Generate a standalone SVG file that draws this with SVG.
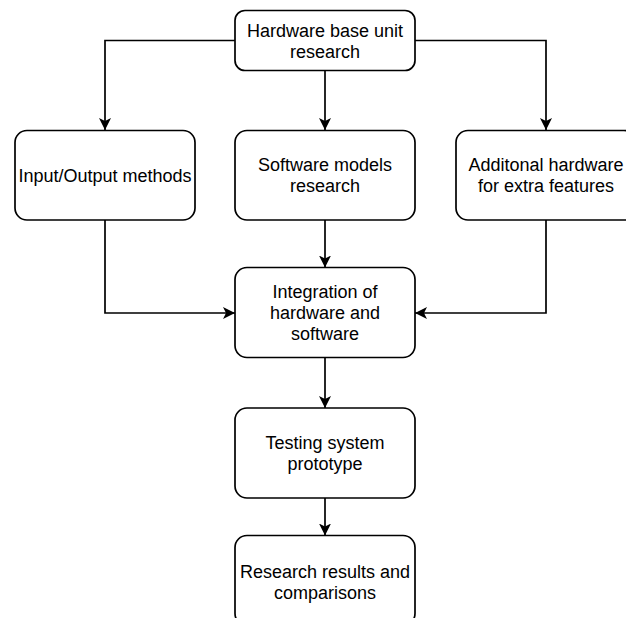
<svg xmlns="http://www.w3.org/2000/svg" width="626" height="618" viewBox="0 0 626 618">
<style>
.box{fill:#ffffff;stroke:#000000;stroke-width:1.7}
.lbl{font-family:"Liberation Sans",Arial,Helvetica,sans-serif;font-size:18px;fill:#000000;text-anchor:middle}
.con{fill:none;stroke:#000000;stroke-width:1.7}
</style>
<defs>
<marker id="arr" viewBox="0 0 12 13" refX="12" refY="6.5" markerWidth="12" markerHeight="13" markerUnits="userSpaceOnUse" orient="auto">
<path d="M0,0.5 L12,6.5 L0,12.5 L3,6.5 z" fill="#000000" stroke="none"/>
</marker>
</defs>
<rect width="626" height="618" fill="#ffffff"/>
<g id="connectors">
<path class="con" d="M235,40.5 H105 V130" marker-end="url(#arr)"/>
<path class="con" d="M325,70.5 V130" marker-end="url(#arr)"/>
<path class="con" d="M415,40.5 H546 V130" marker-end="url(#arr)"/>
<path class="con" d="M105,220 V313 H235" marker-end="url(#arr)"/>
<path class="con" d="M325,220 V267.5" marker-end="url(#arr)"/>
<path class="con" d="M546,220 V313 H415" marker-end="url(#arr)"/>
<path class="con" d="M325,357.5 V408" marker-end="url(#arr)"/>
<path class="con" d="M325,498 V535.5" marker-end="url(#arr)"/>
</g>
<g id="node-hardware-base">
<rect class="box" x="235" y="10.5" width="180" height="60" rx="10"/>
<text class="lbl" x="325" y="36.8">Hardware base unit</text>
<text class="lbl" x="325" y="57.5">research</text>
</g>
<g id="node-io">
<rect class="box" x="15" y="130.5" width="180" height="89.5" rx="12"/>
<text class="lbl" x="105" y="181.5">Input/Output methods</text>
</g>
<g id="node-software">
<rect class="box" x="235" y="130.5" width="180" height="89.5" rx="12"/>
<text class="lbl" x="325" y="171">Software models</text>
<text class="lbl" x="325" y="192">research</text>
</g>
<g id="node-additional">
<rect class="box" x="456" y="130.5" width="180" height="89.5" rx="12"/>
<text class="lbl" x="546" y="171">Additonal hardware</text>
<text class="lbl" x="546" y="192">for extra features</text>
</g>
<g id="node-integration">
<rect class="box" x="235" y="267.5" width="180" height="90" rx="12"/>
<text class="lbl" x="325" y="297.5">Integration of</text>
<text class="lbl" x="325" y="318.8">hardware and</text>
<text class="lbl" x="325" y="340">software</text>
</g>
<g id="node-testing">
<rect class="box" x="235" y="408" width="180" height="90" rx="12"/>
<text class="lbl" x="325" y="449">Testing system</text>
<text class="lbl" x="325" y="470">prototype</text>
</g>
<g id="node-results">
<rect class="box" x="235" y="535.5" width="180" height="90" rx="12"/>
<text class="lbl" x="325" y="578">Research results and</text>
<text class="lbl" x="325" y="598.5">comparisons</text>
</g>
</svg>
